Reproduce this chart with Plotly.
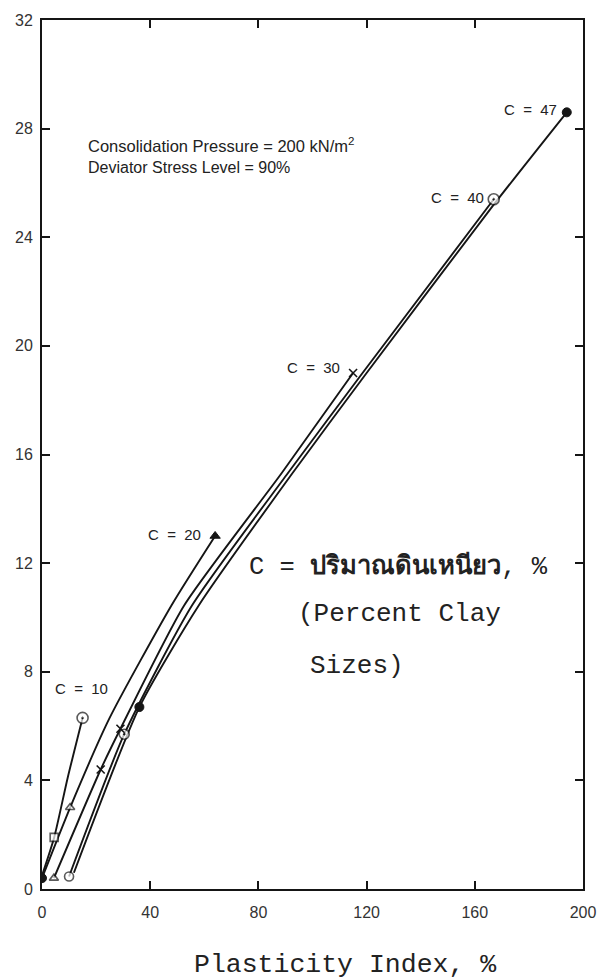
import plotly.graph_objects as go

# ---- data ----
c10_x = [0, 4.5, 9.5, 15]
c10_y = [0.5, 1.9, 4.1, 6.3]
c20_x = [0, 10.4, 25, 47.9, 64]
c20_y = [0.4, 3.0, 6.3, 10.45, 13.0]
c30_x = [4.4, 21.7, 29, 52.6, 88.5, 115]
c30_y = [0.4, 4.4, 5.9, 10.45, 15.3, 19.0]
c40_x = [10, 30.4, 55.5, 90.8, 118.5, 167]
c40_y = [0.46, 5.7, 10.45, 15.3, 19.0, 25.4]
c47_x = [11.8, 36, 58, 92.5, 120, 167, 194]
c47_y = [0.6, 6.7, 10.45, 15.3, 19.0, 25.2, 28.6]

# markers by style
filled_x = [0, 64, 36, 194]
filled_y = [0.4, 13.0, 6.7, 28.6]
filled_sym = ["circle", "triangle-up", "circle", "circle"]
hollow_x = [15, 4.5, 10.4, 4.4, 10, 30.4, 167]
hollow_y = [6.3, 1.9, 3.0, 0.4, 0.46, 5.7, 25.4]
hollow_sym = ["circle-dot", "square", "triangle-up", "triangle-up", "circle", "circle-dot", "circle-dot"]
hollow_size = [11, 8, 8, 8, 9, 10, 11]
cross_x = [21.7, 29, 115]
cross_y = [4.4, 5.9, 19.0]

end_labels = ["C = 10", "C = 20", "C = 30", "C = 40", "C = 47"]
label_x = [25.2, 59.5, 111, 164, 191]
label_y = [7.4, 13.05, 19.2, 25.45, 28.7]

x_ticks = [0, 40, 80, 120, 160, 200]
y_ticks = [0, 4, 8, 12, 16, 20, 24, 28, 32]

ink = "#151515"
fig = go.Figure()
for xs, ys in [(c10_x, c10_y), (c20_x, c20_y), (c30_x, c30_y), (c40_x, c40_y), (c47_x, c47_y)]:
    fig.add_trace(go.Scatter(x=xs, y=ys, mode="lines",
                             line=dict(color=ink, width=1.9, shape="spline", smoothing=0.6),
                             showlegend=False, hoverinfo="skip"))

fig.add_trace(go.Scatter(x=hollow_x, y=hollow_y, mode="markers",
                         marker=dict(symbol=hollow_sym, size=hollow_size, color="white",
                                     line=dict(color=ink, width=1.6)),
                         showlegend=False))
fig.add_trace(go.Scatter(x=filled_x, y=filled_y, mode="markers",
                         marker=dict(symbol=filled_sym, size=9, color=ink,
                                     line=dict(color=ink, width=1)),
                         showlegend=False))
fig.add_trace(go.Scatter(x=cross_x, y=cross_y, mode="markers",
                         marker=dict(symbol="x-thin", size=8, color=ink,
                                     line=dict(color=ink, width=1.6)),
                         showlegend=False))

sans = "Liberation Sans, Arial, sans-serif"
for t, lx, ly in zip(end_labels, label_x, label_y):
    fig.add_annotation(x=lx, y=ly, text=t.replace(" ", "\u00a0\u00a0"), showarrow=False,
                       xanchor="right", yanchor="middle",
                       font=dict(family=sans, size=15, color="#222"))

fig.add_annotation(xref="paper", yref="paper", x=(87 - 42) / 553, y=(889 - 141) / 874,
                   text="Consolidation Pressure = 200 kN/m<sup>2</sup>", showarrow=False,
                   xanchor="left", yanchor="middle",
                   font=dict(family=sans, size=16.5, color="#222"))
fig.add_annotation(xref="paper", yref="paper", x=(87 - 42) / 553, y=(889 - 163) / 874,
                   text="Deviator Stress Level = 90%", showarrow=False,
                   xanchor="left", yanchor="middle",
                   font=dict(family=sans, size=16, color="#222"))

mono = "Liberation Mono, Courier New, monospace"
fig.add_annotation(xref="paper", yref="paper", x=(252 - 42) / 553, y=(889 - 565) / 874,
                   text="C = <b>ปริมาณดินเหนียว</b>, %", showarrow=False,
                   xanchor="left", yanchor="middle", font=dict(family=mono, size=25.5, color="#222"))
fig.add_annotation(xref="paper", yref="paper", x=(302 - 42) / 553, y=(889 - 612) / 874,
                   text="(Percent Clay", showarrow=False,
                   xanchor="left", yanchor="middle", font=dict(family=mono, size=26, color="#222"))
fig.add_annotation(xref="paper", yref="paper", x=(314 - 42) / 553, y=(889 - 665) / 874,
                   text="Sizes)", showarrow=False,
                   xanchor="left", yanchor="middle", font=dict(family=mono, size=26, color="#222"))
fig.add_annotation(xref="paper", yref="paper", x=(352 - 42) / 553, y=(889 - 965) / 874,
                   text="Plasticity Index, %", showarrow=False,
                   xanchor="center", yanchor="middle", font=dict(family=mono, size=26.5, color="#222"))

axis_common = dict(showline=True, linecolor=ink, linewidth=2, mirror="ticks",
                   ticks="inside", ticklen=8, tickwidth=1.5, tickcolor=ink,
                   showgrid=False, zeroline=False,
                   tickfont=dict(family=sans, size=16, color="#333"))
fig.update_xaxes(range=[0, 200], tickvals=x_ticks, ticklabelstandoff=8, **axis_common)
fig.update_yaxes(range=[0, 32], tickvals=y_ticks, ticklabelstandoff=4, **axis_common)

fig.update_layout(width=608, height=980, margin=dict(l=42, r=13, t=15, b=91),
                  paper_bgcolor="white", plot_bgcolor="white")
fig.write_html("out.html")
